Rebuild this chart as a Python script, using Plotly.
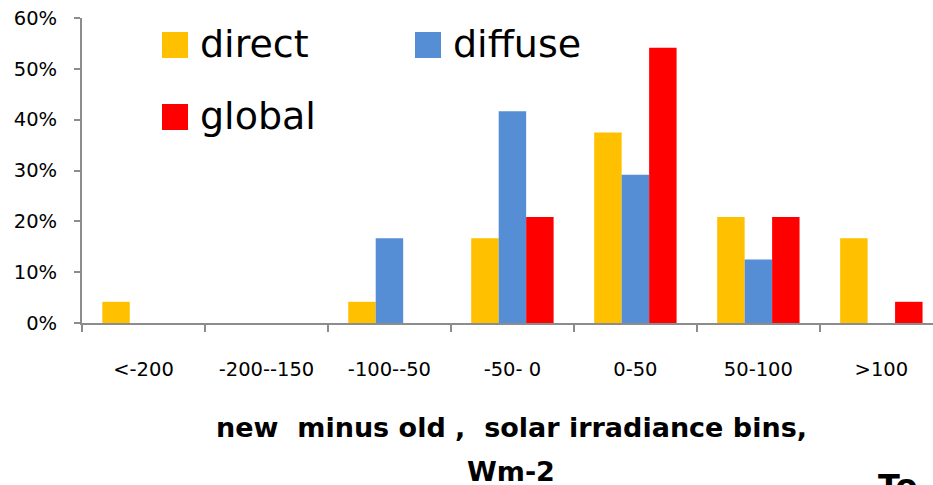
import plotly.graph_objects as go

# Histogram of (new - old) solar irradiance differences, share of cases per bin
bins = ["<-200", "-200--150", "-100--50", "-50- 0", "0-50", "50-100", ">100"]
direct = [0.0417, 0.0, 0.0417, 0.1667, 0.375, 0.2083, 0.1667]
diffuse = [0.0, 0.0, 0.1667, 0.4167, 0.2917, 0.125, 0.0]
global_ = [0.0, 0.0, 0.0, 0.2083, 0.5417, 0.2083, 0.0417]

series_names = ["direct", "diffuse", "global"]
series_values = [direct, diffuse, global_]
series_colors = ["#FFC000", "#558ED5", "#FF0000"]

W, H = 933, 485
ML, MR, MT, MB = 82, 0, 18, 162
FONT = "DejaVu Sans"
NB = "\u00a0"

fig = go.Figure()
for name, vals, col in zip(series_names, series_values, series_colors):
    fig.add_trace(go.Bar(x=bins, y=vals, name=name, marker_color=col,
                         marker_line_width=0, showlegend=False))


def px_x(x):
    return (x - ML) / (W - ML - MR)


def px_y(y):
    return 1 - (y - MT) / (H - MT - MB)


# Legend drawn as large swatches with labels
legend_pos = [(162, 32), (415, 32), (162, 104)]
shapes = []
annotations = []
for name, col, (lx, ly) in zip(series_names, series_colors, legend_pos):
    shapes.append(dict(type="rect", xref="paper", yref="paper",
                       x0=px_x(lx), x1=px_x(lx + 26), y0=px_y(ly + 26), y1=px_y(ly),
                       fillcolor=col, line_width=0))
    annotations.append(dict(text=name, xref="paper", yref="paper",
                            x=px_x(lx + 36), y=px_y(ly + 12), xanchor="left",
                            yanchor="middle", showarrow=False,
                            font=dict(family=FONT, size=38, color="#000000")))

# Axis title in two lines
title_1 = f"new{NB} minus old ,{NB} solar irradiance bins,"
annotations.append(dict(text=f"<b>{title_1}</b>",
                        xref="paper", yref="paper", x=px_x(512), y=px_y(427),
                        xanchor="center", yanchor="middle", showarrow=False,
                        font=dict(family=FONT, size=27, color="#000000")))
annotations.append(dict(text="<b>Wm-2</b>", xref="paper", yref="paper",
                        x=px_x(511), y=px_y(471), xanchor="center",
                        yanchor="middle", showarrow=False,
                        font=dict(family=FONT, size=27, color="#000000")))
annotations.append(dict(text="<b>To</b>", xref="paper", yref="paper",
                        x=px_x(876), y=px_y(465), xanchor="left",
                        yanchor="top", showarrow=False,
                        font=dict(family=FONT, size=32, color="#000000")))

fig.update_layout(
    width=W, height=H,
    margin=dict(l=ML, r=MR, t=MT, b=MB, pad=0),
    paper_bgcolor="white", plot_bgcolor="white",
    barmode="group", bargap=0.33, bargroupgap=0,
    font=dict(family=FONT, size=19.5, color="#000000"),
    shapes=shapes, annotations=annotations,
    xaxis=dict(type="category", range=[-0.5, 6.42], showline=True,
               linecolor="#8C8C8C", linewidth=2, ticks="outside",
               tickson="boundaries", ticklen=7, tickcolor="#8C8C8C",
               tickwidth=2, showgrid=False, ticklabelstandoff=28,
               tickfont=dict(family=FONT, size=19.5)),
    yaxis=dict(range=[0, 0.6], dtick=0.1, tickformat=".0%", showline=True,
               linecolor="#8C8C8C", linewidth=2, ticks="outside", ticklen=6,
               tickcolor="#8C8C8C", tickwidth=2, showgrid=False,
               zeroline=False, ticklabelstandoff=13,
               tickfont=dict(family=FONT, size=19.5)),
)

fig.write_html("out.html")
